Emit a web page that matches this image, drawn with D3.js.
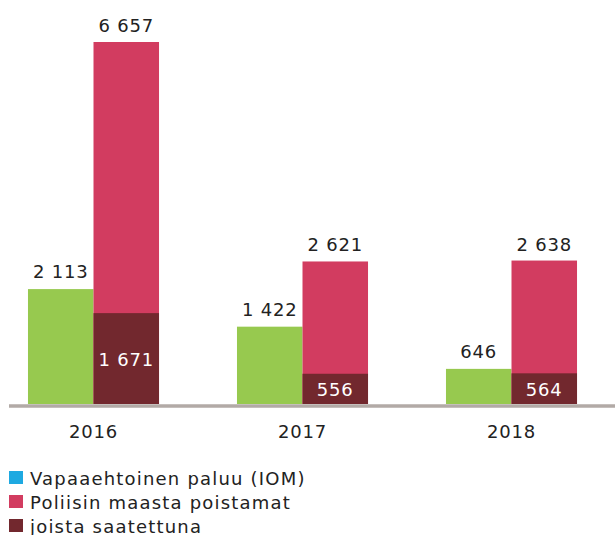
<!DOCTYPE html>
<html>
<head>
<meta charset="utf-8">
<script src="https://cdn.jsdelivr.net/npm/d3@7/dist/d3.min.js"></script>
<style>
  body { margin: 0; background: #fff; }
  text { font-family: "DejaVu Sans", Verdana, sans-serif; }
</style>
</head>
<body>
<div id="chart"></div>
<script>
// data
var years = ["2016", "2017", "2018"];
var voluntary = [2113, 1422, 646];     // Vapaaehtoinen paluu (IOM)
var removed = [6657, 2621, 2638];      // Poliisin maasta poistamat
var escorted = [1671, 556, 564];       // joista saatettuna
var legendLabels = ["Vapaaehtoinen paluu (IOM)", "Poliisin maasta poistamat", "joista saatettuna"];

var colors = {
  green: "#97c94f",
  red: "#d23c60",
  dark: "#72282e",
  blue: "#1ea9e1"
};

var svgWidth = 615;
var svgHeight = 535;
var baseY = 404;
var topY = 42;

var svg = d3.select("#chart")
  .append("svg")
  .attr("width", svgWidth)
  .attr("height", svgHeight);

var x0 = d3.scaleBand()
  .domain(years)
  .range([-11, 616])
  .paddingInner(0.373)
  .paddingOuter(0.1865);

var x1 = d3.scaleBand()
  .domain(["a", "b"])
  .range([0, x0.bandwidth()]);

var y = d3.scaleLinear()
  .domain([0, d3.max(removed)])
  .range([baseY, topY]);

var fmt = function(v) { return d3.format(",")(v).replace(/,/g, " "); };

var rows = years.map(function(yr, i) {
  return { year: yr, voluntary: voluntary[i], removed: removed[i], escorted: escorted[i] };
});

var groups = svg.selectAll("g.year")
  .data(rows)
  .enter()
  .append("g")
  .attr("class", "year")
  .attr("transform", d => `translate(${x0(d.year)},0)`);

// green bars
groups.append("rect")
  .attr("x", x1("a"))
  .attr("y", d => y(d.voluntary))
  .attr("width", x1.bandwidth())
  .attr("height", d => y(0) - y(d.voluntary))
  .attr("fill", colors.green);

// red bars
groups.append("rect")
  .attr("x", x1("b"))
  .attr("y", d => y(d.removed))
  .attr("width", x1.bandwidth())
  .attr("height", d => y(0) - y(d.removed))
  .attr("fill", colors.red);

// dark overlay inside red
groups.append("rect")
  .attr("x", x1("b"))
  .attr("y", d => y(d.escorted))
  .attr("width", x1.bandwidth())
  .attr("height", d => y(0) - y(d.escorted))
  .attr("fill", colors.dark);

// value labels
groups.append("text")
  .attr("x", x1("a") + x1.bandwidth() / 2)
  .attr("y", d => y(d.voluntary) - 11)
  .attr("text-anchor", "middle")
  .attr("font-size", "18px")
  .attr("letter-spacing", "0.8px")
  .attr("fill", "#222")
  .text(d => fmt(d.voluntary));

groups.append("text")
  .attr("x", x1("b") + x1.bandwidth() / 2)
  .attr("y", d => y(d.removed) - 10)
  .attr("text-anchor", "middle")
  .attr("font-size", "18px")
  .attr("letter-spacing", "0.8px")
  .attr("fill", "#222")
  .text(d => fmt(d.removed));

groups.append("text")
  .attr("x", x1("b") + x1.bandwidth() / 2)
  .attr("y", d => (y(d.escorted) + y(0)) / 2 + 7)
  .attr("text-anchor", "middle")
  .attr("font-size", "18px")
  .attr("letter-spacing", "0.8px")
  .attr("fill", "#fff")
  .text(d => fmt(d.escorted));

// baseline
svg.append("line")
  .attr("x1", 9)
  .attr("x2", 615)
  .attr("y1", baseY + 2)
  .attr("y2", baseY + 2)
  .attr("stroke", "#b2aaa6")
  .attr("stroke-width", 3.5);

// year labels
svg.selectAll("text.yr")
  .data(years)
  .enter()
  .append("text")
  .attr("class", "yr")
  .attr("x", d => x0(d) + x0.bandwidth() / 2)
  .attr("y", 438)
  .attr("text-anchor", "middle")
  .attr("font-size", "18px")
  .attr("letter-spacing", "0.8px")
  .attr("fill", "#222")
  .text(d => d);

// legend
var legendColors = [colors.blue, colors.red, colors.dark];
var legend = svg.selectAll("g.legend")
  .data(legendLabels)
  .enter()
  .append("g")
  .attr("class", "legend")
  .attr("transform", (d, i) => `translate(9, ${471 + i * 24})`);

legend.append("rect")
  .attr("width", 14)
  .attr("height", 13)
  .attr("fill", (d, i) => legendColors[i]);

legend.append("text")
  .attr("x", 21)
  .attr("y", 13.5)
  .attr("font-size", "18px")
  .attr("letter-spacing", "1.2px")
  .attr("fill", "#222")
  .text(d => d);
</script>
</body>
</html>
